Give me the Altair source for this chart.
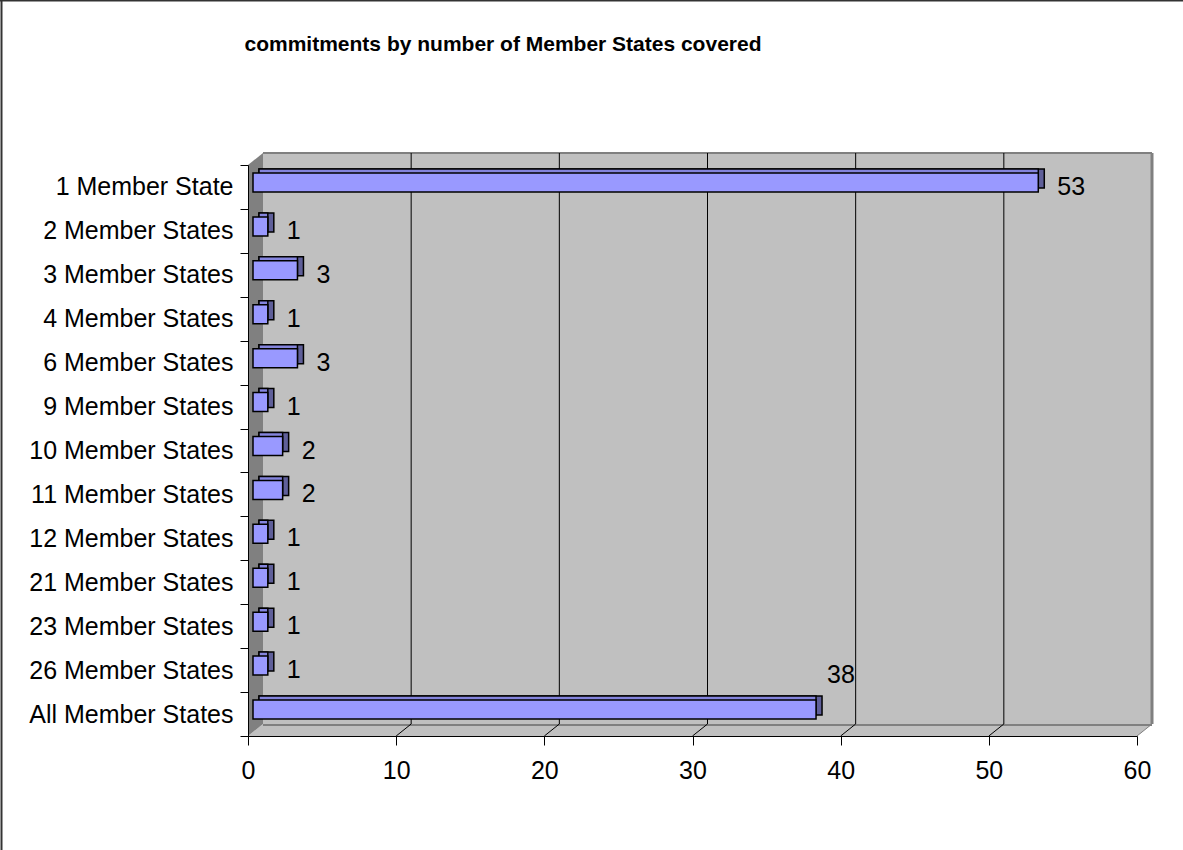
import altair as alt
import pandas as pd

# ---- data ----
categories = [
    "1 Member State", "2 Member States", "3 Member States", "4 Member States",
    "6 Member States", "9 Member States", "10 Member States", "11 Member States",
    "12 Member States", "21 Member States", "23 Member States", "26 Member States",
    "All Member States",
]
values = [53, 1, 3, 1, 3, 1, 2, 2, 1, 1, 1, 1, 38]
x_ticks = [0, 10, 20, 30, 40, 50, 60]
title_text = "commitments by number of Member States covered"

# ---- layout / style constants ----
W, H = 889, 571          # plot area (front face)
DX, DY = 15, -12         # 3-D depth of walls
FONT = "Liberation Sans"
LABEL_SIZE = 25
FRONT = "#9999FF"
TOP = "#8484DD"
SIDE = "#5F5F99"
WALL = "#C0C0C0"
DARK_WALL = "#808080"

df = pd.DataFrame({"category": categories, "value": values})
ticks_df = pd.DataFrame({"t": x_ticks})
xscale = alt.Scale(domain=[0, 60], nice=False, zero=True)
yscale = alt.Scale(domain=categories, paddingInner=0, paddingOuter=0)
one = alt.Data(values=[{"k": 1}])

# border (left and top only)
border_left = alt.Chart(one).mark_rule(color="#333333", strokeWidth=2).encode(
    x=alt.value(-246.5), y=alt.value(-166), y2=alt.value(H + 120))
border_top = alt.Chart(one).mark_rule(color="#333333", strokeWidth=2).encode(
    y=alt.value(-164.5), x=alt.value(-248), x2=alt.value(W + 50))

# back wall
back_wall = alt.Chart(one).mark_rect(fill=WALL).encode(
    x=alt.value(DX), x2=alt.value(W + DX), y=alt.value(DY), y2=alt.value(H + DY))
back_top = alt.Chart(one).mark_rule(color=DARK_WALL, strokeWidth=2).encode(
    x=alt.value(DX), x2=alt.value(W + DX), y=alt.value(DY))
back_right = alt.Chart(one).mark_rule(color=DARK_WALL, strokeWidth=3).encode(
    x=alt.value(W + DX), y=alt.value(DY), y2=alt.value(H + DY))

# floor (parallelogram) and left wall (parallelogram) in pixel space
floor_df = pd.DataFrame({"py": [H + DY, H], "px": [DX, 0], "px2": [W + DX, W]})
floor = alt.Chart(floor_df).mark_area(orient="horizontal", color=WALL).encode(
    y=alt.Y("py:Q", scale=None, axis=None),
    x=alt.X("px:Q", scale=None, axis=None),
    x2="px2:Q",
)
floor_back = alt.Chart(one).mark_rule(color=DARK_WALL, strokeWidth=2).encode(
    x=alt.value(DX), x2=alt.value(W + DX), y=alt.value(H + DY + 1))

left_df = pd.DataFrame({"px": [0, DX], "py": [0, DY], "py2": [H, H + DY]})
left_wall = alt.Chart(left_df).mark_area(orient="vertical", color=DARK_WALL).encode(
    x=alt.X("px:Q", scale=None, axis=None),
    y=alt.Y("py:Q", scale=None, axis=None),
    y2="py2:Q",
)

# gridlines on back wall and their diagonal continuation on the floor
grid_back = alt.Chart(ticks_df).transform_filter(
    (alt.datum.t > 0) & (alt.datum.t < 60)
).mark_rule(color="black", strokeWidth=1, xOffset=DX).encode(
    x=alt.X("t:Q", scale=xscale, axis=None),
    y=alt.value(DY), y2=alt.value(H + DY),
)
grid_floor = alt.Chart(ticks_df).transform_filter(
    alt.datum.t > 0
).mark_rule(strokeWidth=1, x2Offset=DX).encode(
    x=alt.X("t:Q", scale=xscale, axis=None),
    x2="t:Q",
    y=alt.value(H), y2=alt.value(H + DY),
    color=alt.condition(alt.datum.t < 60, alt.value("black"), alt.value(DARK_WALL)),
)

# bars (3-D look: dark right face, lighter top face, light front face)
base = alt.Chart(df)
bar_side = base.mark_bar(size=19, color=SIDE, stroke="black", strokeWidth=1.5,
                         xOffset=11, x2Offset=11, yOffset=-8.5).encode(
    x=alt.X("value:Q", scale=xscale, axis=None, stack=None),
    x2=alt.datum(0),
    y=alt.Y("category:N", scale=yscale, axis=None),
)
bar_top = base.mark_bar(size=19, color=TOP, stroke="black", strokeWidth=1.5,
                        xOffset=5, x2Offset=11, yOffset=-8.5).encode(
    x=alt.X("value:Q", scale=xscale, axis=None, stack=None),
    x2=alt.datum(0),
    y=alt.Y("category:N", scale=yscale, axis=None),
)
bar_front = base.mark_bar(size=19, color=FRONT, stroke="black", strokeWidth=1.5,
                          xOffset=5, x2Offset=5, yOffset=-4.5).encode(
    x=alt.X("value:Q", scale=xscale, stack=None,
            axis=alt.Axis(values=x_ticks, grid=False, tickSize=9, tickColor="black",
                          domainColor="black", labelFont=FONT, labelFontSize=LABEL_SIZE,
                          labelColor="black", labelPadding=13, title=None, zindex=2,
                          labelFlush=False)),
    x2=alt.datum(0),
    y=alt.Y("category:N", scale=yscale,
            axis=alt.Axis(title=None, tickBand="extent", tickSize=8, tickColor="black",
                          domainColor="black", labelFont=FONT, labelFontSize=LABEL_SIZE,
                          labelColor="black", labelPadding=7, labelLimit=400, zindex=2)),
)

labels = base.transform_filter(alt.datum.category != "All Member States").mark_text(
    align="left", baseline="middle", dx=24, font=FONT, fontSize=LABEL_SIZE, color="black"
).encode(
    x=alt.X("value:Q", scale=xscale, axis=None),
    y=alt.Y("category:N", scale=yscale, axis=None),
    text="value:Q",
)
label_all = base.transform_filter(alt.datum.category == "All Member States").mark_text(
    align="left", baseline="middle", dx=16, dy=-39, font=FONT, fontSize=LABEL_SIZE, color="black"
).encode(
    x=alt.X("value:Q", scale=xscale, axis=None),
    y=alt.Y("category:N", scale=yscale, axis=None),
    text="value:Q",
)

title = alt.Chart(alt.Data(values=[{"title": title_text}])).mark_text(
    font=FONT, fontSize=21, fontWeight="bold", align="center", baseline="middle", color="black"
).encode(x=alt.value(255), y=alt.value(-120), text="title:N")

chart = alt.layer(
    border_left, border_top, back_wall, back_top, back_right, floor, floor_back,
    grid_back, grid_floor, left_wall, bar_side, bar_top, bar_front, labels, label_all, title,
).resolve_scale(x="independent", y="independent").properties(
    width=W, height=H,
    autosize=alt.AutoSizeParams(type="none"),
    padding={"left": 248, "top": 165, "right": 46, "bottom": 114},
    background="white",
).configure_view(strokeWidth=0)

chart.save("out.html", embed_options={"renderer": "svg", "actions": False})
